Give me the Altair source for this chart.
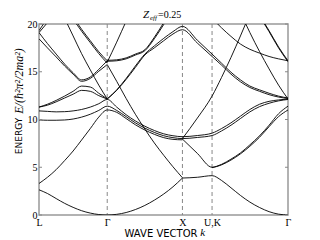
import altair as alt
import pandas as pd

# sample positions (fraction of the k-path) of each path segment
K_LG = [0.000, 0.034, 0.069, 0.103, 0.137, 0.171, 0.206, 0.240, 0.274]
K_GX = [0.274, 0.312, 0.350, 0.387, 0.425, 0.463, 0.501, 0.538, 0.576]
K_XU = [0.576, 0.636, 0.695]
K_KG = [0.695, 0.733, 0.771, 0.809, 0.847, 0.886, 0.924, 0.962, 1.000]

X_TICKS = [0.0, 0.274, 0.576, 0.695, 1.0]
X_LABELS = ["L", "Γ", "X", "U,K", "Γ"]
SYM_LINES = [0.274, 0.576, 0.695]
Y_TICKS = [0, 5, 10, 15, 20]

# bands: list of (segment, first sample index, energies)
BANDS = {
    "b1":  [("LG", 0, [2.64, 2.25, 1.72, 1.22, 0.80, 0.45, 0.20, 0.05, 0.0]),
            ("GX", 1, [0.07, 0.26, 0.57, 1.0, 1.55, 2.2, 2.95, 3.87])],
    "b1x": [("XU", 0, [3.87, 3.95, 4.12]),
            ("KG", 1, [3.62, 2.85, 2.05, 1.35, 0.78, 0.35, 0.09, 0.0])],
    "b2":  [("LG", 0, [3.3, 3.95, 4.75, 5.7, 6.7, 7.85, 9.05, 10.25, 11.0]),
            ("GX", 1, [10.75, 10.1, 9.45, 8.9, 8.45, 8.1, 7.92, 7.87])],
    "b3":  [("LG", 0, [9.96, 9.92, 9.92, 9.95, 10.05, 10.25, 10.55, 10.95, 11.4]),
            ("GX", 1, [10.95, 10.3, 9.65, 9.1, 8.65, 8.3, 8.1, 8.0]),
            ("XU", 1, [8.12, 8.32]),
            ("KG", 1, [8.8, 9.4, 10.1, 10.8, 11.35, 11.7, 11.95, 12.1])],
    "b4":  [("LG", 0, [10.9, 10.85, 10.8, 10.82, 10.9, 11.05, 11.3, 11.65, 12.1]),
            ("GX", 1, [11.3, 10.5, 9.85, 9.3, 8.85, 8.5, 8.3, 8.2]),
            ("XU", 1, [8.32, 8.57]),
            ("KG", 1, [9.05, 9.65, 10.35, 11.05, 11.6, 11.9, 12.05, 12.15])],
    "b5":  [("XU", 0, [7.95, 6.45, 5.0]),
            ("KG", 1, [5.25, 5.75, 6.4, 7.2, 8.15, 9.25, 10.3, 11.0])],
    "b5b": [("KG", 0, [4.95, 5.3, 5.85, 6.5, 7.35, 8.3, 9.4, 10.6, 11.4])],
    "b6":  [("LG", 0, [11.3, 11.6, 12.0, 12.45, 12.95, 13.5, 13.4, 12.75, 12.15])],
    "b7":  [("LG", 0, [11.3, 11.5, 11.85, 12.25, 12.65, 13.05, 12.95, 12.5, 12.15])],
    "b8":  [("LG", 0, [19.1, 17.95, 16.85, 15.8, 14.9, 14.15, 14.45, 15.25, 16.15])],
    "b9":  [("LG", 0, [18.45, 17.5, 16.55, 15.6, 14.75, 14.0, 14.3, 15.05, 15.75])],
    "b10": [("LG", 3, [20.6, 18.75, 16.9, 15.2, 13.6, 12.15])],
    "b11": [("LG", 4, [20.75, 19.45, 18.25, 17.1, 16.15])],
    "b12": [("LG", 4, [20.5, 19.25, 18.05, 16.9, 15.9])],
    "b13": [("LG", 0, [19.1, 20.15, 21.3])],
    "b14": [("LG", 0, [19.3, 20.6, 21.8])],
    "b15": [("GX", 0, [15.75, 14.0, 12.2, 10.55, 9.0, 7.55, 6.25, 5.05, 3.9])],
    "b16": [("GX", 0, [12.15, 13.05, 14.2, 15.45, 16.75, 17.5, 18.25, 18.95, 19.4]),
            ("XU", 1, [18.0, 16.6]),
            ("KG", 1, [15.7, 14.75, 13.95, 13.35, 12.95, 12.6, 12.35, 12.2])],
    "b17": [("GX", 0, [12.15, 13.1, 14.3, 15.6, 16.85, 17.7, 18.5, 19.2, 19.75]),
            ("XU", 1, [18.3, 16.85]),
            ("KG", 1, [15.9, 14.95, 14.15, 13.5, 13.1, 12.75, 12.45, 12.25])],
    "b18": [("GX", 0, [16.2, 16.25, 16.45, 16.85, 17.3, 18.6, 20.15, 21.7])],
    "b19": [("GX", 0, [16.1, 16.15, 16.35, 16.75, 17.2, 18.45, 19.95, 21.5])],
    "b20": [("GX", 0, [16.0, 18.1, 20.3])],
    "b21": [("XU", 0, [8.0, 10.15, 12.45]),
            ("KG", 1, [14.4, 16.5, 18.75, 21.1])],
    "b22": [("KG", 3, [21.2, 19.1, 17.1, 15.3, 13.6, 12.15])],
    "b23": [("KG", 5, [20.9, 19.3, 17.6, 16.15])],
    "b24": [("KG", 5, [20.8, 19.2, 17.5, 16.05])],
    "b25": [("KG", 0, [20.6, 19.6, 18.7, 17.9, 17.35, 16.95, 16.6, 16.35, 16.15])],
}

SEG = {"LG": K_LG, "GX": K_GX, "XU": K_XU, "KG": K_KG}
rows = []
for name, parts in BANDS.items():
    o = 0
    for seg, start, vals in parts:
        for k, e in zip(SEG[seg][start:start + len(vals)], vals):
            rows.append({"band": name, "k": k, "E": e, "o": o})
            o += 1
df = pd.DataFrame(rows)

# label expression built from tick lists
expr = "'%s'" % X_LABELS[-1]
for i in range(len(X_TICKS) - 2, -1, -1):
    mid = (X_TICKS[i] + X_TICKS[i + 1]) / 2
    expr = "datum.value < %g ? '%s' : (%s)" % (mid, X_LABELS[i], expr)

W, H = 249, 191
SERIF = "Liberation Serif"
SANS = "DejaVu Sans"

xscale = alt.Scale(domain=[0, 1], nice=False, zero=False)
yscale = alt.Scale(domain=[0, 20], nice=False, zero=False)

lines = alt.Chart(df).mark_line(
    color="black", strokeWidth=0.9, interpolate="monotone", clip=True
).encode(
    x=alt.X("k:Q", scale=xscale,
            axis=alt.Axis(values=X_TICKS, labelExpr=expr, title=None, ticks=False,
                          domain=False, grid=False, labelFont=SERIF, labelFontSize=10,
                          labelColor="black", labelPadding=2, labelFlush=False)),
    y=alt.Y("E:Q", scale=yscale,
            axis=alt.Axis(values=Y_TICKS, title=None, ticks=False, domain=False,
                          grid=False, labelFont=SERIF, labelFontSize=10,
                          labelColor="black", labelPadding=2, labelFlush=False)),
    detail="band:N",
    order="o:Q",
)

sym = alt.Chart(pd.DataFrame({"k": SYM_LINES})).mark_rule(
    color="#888888", strokeDash=[4, 3], strokeWidth=1
).encode(x=alt.X("k:Q", scale=xscale))

yt = pd.DataFrame({"E": Y_TICKS})
lt = alt.Chart(yt).mark_rule(color="#888888").encode(
    y=alt.Y("E:Q", scale=yscale), x=alt.value(0), x2=alt.value(3))
rt = alt.Chart(yt).mark_rule(color="#888888").encode(
    y=alt.Y("E:Q", scale=yscale), x=alt.value(W - 3), x2=alt.value(W))

one = pd.DataFrame({"a": [0]})
def txt(s, x, y, font, size, style="normal", angle=0, align="center"):
    return alt.Chart(one).mark_text(
        text=s, font=font, fontSize=size, fontStyle=style, angle=angle,
        align=align, baseline="middle", color="black"
    ).encode(x=alt.value(x), y=alt.value(y))

texts = [
    txt("Z", 104, -9, SERIF, 11, "italic", align="left"),
    txt("eff", 111, -6, SERIF, 7, "italic", align="left"),
    txt("=0.25", 119, -9, SERIF, 10, align="left"),
    txt("ENERGY", -20, 112, SANS, 9, angle=270),
    txt("E/(ħ²π²/2ma²)", -20, 57, SERIF, 12, "italic", angle=270),
    txt("WAVE VECTOR", 122, 210, SANS, 10),
    txt("k⃗", 168, 209, SERIF, 11, "italic"),
]

chart = alt.layer(sym, lines, lt, rt, *texts).properties(
    width=W, height=H, autosize="none",
    padding={"left": 31, "top": 16, "right": 10, "bottom": 25},
).configure_view(stroke="#999999", strokeWidth=1.5)

chart.save("out.html", embed_options={"renderer": "svg", "actions": False})
